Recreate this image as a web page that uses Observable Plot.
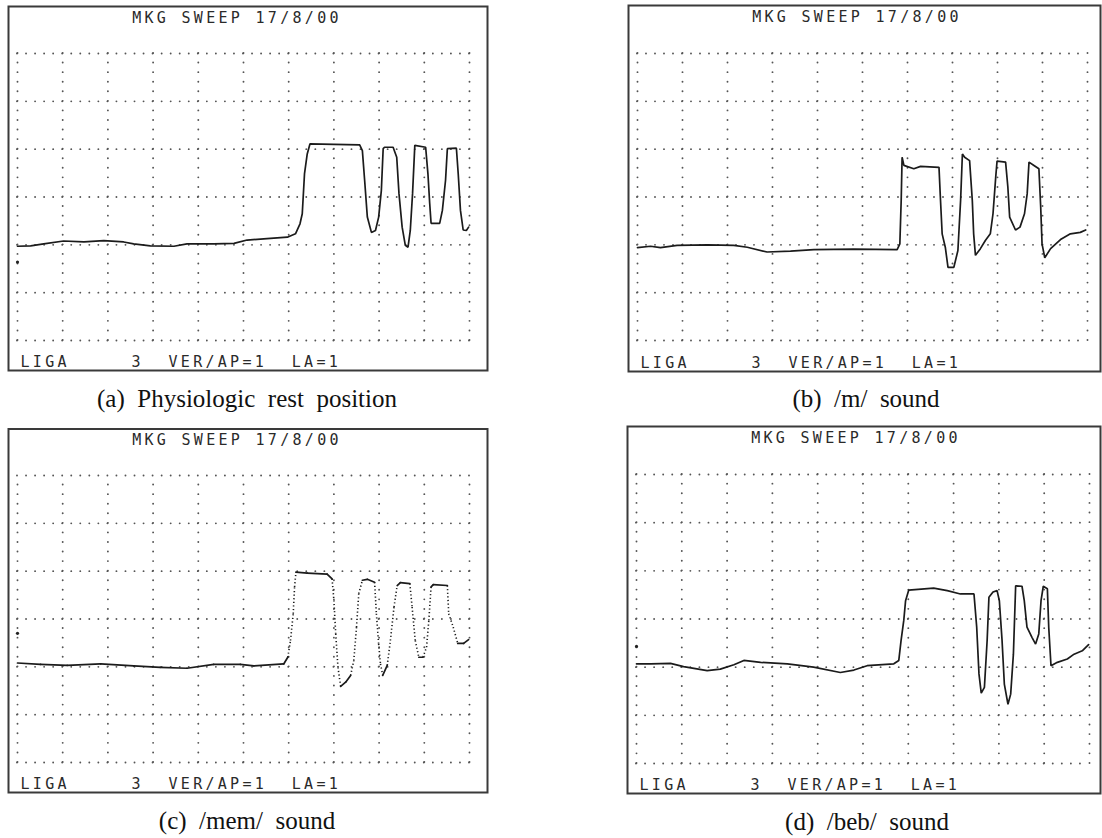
<!DOCTYPE html>
<html><head><meta charset="utf-8">
<script src="https://cdn.jsdelivr.net/npm/d3@7"></script>
<script src="https://cdn.jsdelivr.net/npm/@observablehq/plot@0.6"></script>
<style>
html,body{margin:0;padding:0;background:#fff;overflow:hidden}
#page{position:relative;width:1102px;height:838px;overflow:hidden;background:#fff}
#page svg{position:absolute;left:0;top:0}
.cap{position:absolute;width:420px;text-align:center;font-family:"Liberation Serif","Times New Roman",serif;font-size:25px;line-height:25px;white-space:pre;color:#111}
</style></head><body><div id="page"></div>
<script>
// ---- data (time and amplitude in screen divisions) ----
const xTicks = [0,1,2,3,4,5,6,7,8,9,10];
const yTicks = [0,1,2,3,4,5,6];
const screenTitle = "MKG SWEEP 17/8/00";
const screenFooter = "LIGA     3  VER/AP=1  LA=1";
const captions = ["(a)  Physiologic  rest  position", "(b)  /m/  sound", "(c)  /mem/  sound", "(d)  /beb/  sound"];

const timeA = [0,0.29,0.58,1.02,1.47,1.91,2.35,2.57,2.94,3.46,3.75,4.34,4.79,5.08,5.52,5.97,6.15,6.25,6.30,6.35,6.41,6.47,7.00,7.57,7.63,7.68,7.74,7.83,7.92,7.99,8.05,8.09,8.12,8.31,8.39,8.44,8.51,8.58,8.64,8.69,8.74,8.79,9.03,9.08,9.12,9.15,9.34,9.40,9.47,9.51,9.71,9.75,9.80,9.86,9.93,9.98];
const ampA  = [1.97,1.98,2.02,2.08,2.06,2.09,2.06,2.02,1.98,1.97,2.02,2.02,2.03,2.10,2.13,2.16,2.23,2.44,2.65,3.49,3.90,4.11,4.10,4.09,3.97,3.35,2.58,2.26,2.30,2.58,3.14,4.01,4.04,4.04,3.83,3.07,2.37,1.99,1.95,2.30,3.07,4.08,4.04,3.49,2.86,2.45,2.45,2.72,3.35,4.01,4.02,3.49,2.72,2.31,2.30,2.37];

const timeB = [0,0.29,0.51,0.88,1.55,2.14,2.44,2.88,3.40,3.92,4.81,5.77,5.83,5.86,5.88,5.92,6.14,6.29,6.70,6.73,6.77,6.84,6.90,7.03,7.12,7.18,7.22,7.27,7.38,7.44,7.47,7.51,7.62,7.73,7.84,7.90,7.96,7.99,8.18,8.23,8.27,8.40,8.50,8.60,8.66,8.70,8.81,8.92,8.96,8.99,9.05,9.18,9.40,9.62,9.84,9.96];
const ampB  = [1.94,1.97,1.94,1.99,2.00,1.99,1.95,1.85,1.87,1.90,1.91,1.90,2.02,2.93,3.83,3.66,3.59,3.64,3.62,3.00,2.23,1.95,1.53,1.53,1.88,2.93,3.90,3.83,3.76,2.93,2.23,1.78,1.92,2.09,2.23,2.65,3.41,3.75,3.73,3.21,2.58,2.31,2.37,2.65,3.07,3.73,3.66,3.59,2.79,2.02,1.73,1.92,2.11,2.23,2.26,2.31];

const timeC = [0,0.51,1.10,1.84,2.57,3.16,3.75,4.34,4.93,5.23,5.89,5.98,6.04,6.10,6.13,6.16,6.41,6.85,6.96,7.00,7.04,7.09,7.15,7.26,7.37,7.44,7.50,7.55,7.63,7.74,7.90,7.94,7.99,8.03,8.08,8.18,8.25,8.33,8.40,8.47,8.68,8.73,8.80,8.88,8.97,9.05,9.10,9.15,9.20,9.51,9.54,9.64,9.74,9.87,9.98];
const ampC  = [2.08,2.05,2.03,2.06,2.02,1.99,1.97,2.05,2.05,2.02,2.06,2.20,2.55,3.11,3.67,3.98,3.96,3.94,3.84,3.39,2.69,1.99,1.59,1.68,1.82,2.13,2.83,3.53,3.81,3.83,3.77,3.11,2.48,2.06,1.82,2.03,2.55,3.25,3.70,3.76,3.74,3.25,2.55,2.20,2.20,2.41,2.97,3.67,3.72,3.70,3.11,2.83,2.49,2.49,2.57];

const timeD = [0,0.31,0.75,1.04,1.56,1.85,2.15,2.37,2.74,3.33,3.91,4.50,4.80,5.09,5.68,5.79,5.84,5.90,5.94,6.01,6.56,6.86,7.15,7.45,7.51,7.56,7.61,7.68,7.74,7.78,7.87,7.96,8.01,8.07,8.12,8.20,8.26,8.32,8.37,8.51,8.56,8.62,8.73,8.81,8.88,8.93,8.98,9.07,9.10,9.15,9.29,9.51,9.66,9.84,9.98];
const ampD  = [2.07,2.07,2.08,2.01,1.93,1.96,2.05,2.14,2.10,2.07,2.00,1.89,1.94,2.03,2.07,2.14,2.55,2.97,3.38,3.60,3.64,3.59,3.52,3.52,2.83,1.86,1.46,1.58,2.55,3.45,3.56,3.59,3.38,2.55,1.65,1.23,1.44,2.27,3.69,3.68,3.38,2.83,2.62,2.48,2.69,3.38,3.68,3.63,2.83,2.03,2.10,2.17,2.27,2.34,2.47];

// cursor marker level at left edge of each screen (null = none)
const cursorLevel = [1.64, null, 2.70, 2.43];

// ---- layout (page pixels) ----
const W = 1102, H = 838;
const panels = [
  {t: timeA, v: ampA, box: {l: 8,   t: 6,     r: 487,  b: 370}, gx: [17, 469],  gy: [340, 53],  dotted: false},
  {t: timeB, v: ampB, box: {l: 628, t: 5,     r: 1100, b: 371}, gx: [637, 1087], gy: [340, 53],  dotted: false},
  {t: timeC, v: ampC, box: {l: 8,   t: 428.5, r: 487,  b: 792}, gx: [17, 469],  gy: [762, 475], dotted: true},
  {t: timeD, v: ampD, box: {l: 627, t: 426,   r: 1100, b: 793}, gx: [636, 1089], gy: [763, 474], dotted: false}
];
const capPos = [{cx: 247, base: 407}, {cx: 866, base: 407}, {cx: 247, base: 829}, {cx: 867, base: 830}];

const page = document.getElementById("page");
const mono = "DejaVu Sans Mono, monospace";
const steep = s => Math.abs(s.y2 - s.y1) > 2.5 * Math.abs(s.x2 - s.x1);

panels.forEach((p, k) => {
  const rows = p.t.map((t, i) => ({t, v: p.v[i]}));
  const segs = rows.slice(1).map((r, i) => ({x1: rows[i].t, y1: rows[i].v, x2: r.t, y2: r.v}));
  const xStep = (p.gx[1] - p.gx[0]) / (5 * (xTicks.length - 1));
  const yStep = Math.abs(p.gy[0] - p.gy[1]) / (5 * (yTicks.length - 1));
  const traceStyle = {stroke: "#1b1b1b", strokeWidth: 1.7};
  const marks = [
    Plot.frame({stroke: "#3a3a3a", strokeWidth: 2}),
    Plot.ruleY(yTicks, {y: d => d, x1: xTicks[0], x2: xTicks[xTicks.length - 1], stroke: "#555", strokeWidth: 1.9, strokeLinecap: "round", strokeDasharray: `0 ${xStep}`}),
    Plot.ruleX(xTicks, {x: d => d, y1: yTicks[0], y2: yTicks[yTicks.length - 1], stroke: "#555", strokeWidth: 1.9, strokeLinecap: "round", strokeDasharray: `0 ${yStep}`}),
  ];
  if (p.dotted) {
    marks.push(Plot.link(segs.filter(s => !steep(s)), {x1: "x1", y1: "y1", x2: "x2", y2: "y2", ...traceStyle, strokeLinecap: "round"}));
    marks.push(Plot.link(segs.filter(steep), {x1: "x1", y1: "y1", x2: "x2", y2: "y2", stroke: "#1b1b1b", strokeWidth: 1.6, strokeDasharray: "1.2 2.4"}));
  } else {
    marks.push(Plot.line(rows, {x: "t", y: "v", ...traceStyle, strokeLinejoin: "miter"}));
  }
  if (cursorLevel[k] != null) {
    marks.push(Plot.dot([cursorLevel[k]], {x: xTicks[0], y: d => d, r: 1.6, fill: "#222", stroke: null}));
  }
  marks.push(Plot.text([screenTitle], {text: d => d, frameAnchor: "top-left", dx: 228.5, dy: 16, lineAnchor: "bottom", textAnchor: "middle", fontFamily: mono, fontSize: 15, fill: "#2a2a2a"}));
  marks.push(Plot.text([screenFooter], {text: d => d, frameAnchor: "bottom-left", dx: 12, dy: -4, lineAnchor: "bottom", textAnchor: "start", fontFamily: mono, fontSize: 15, fill: "#2a2a2a"}));

  const svg = Plot.plot({
    width: W, height: H,
    marginLeft: p.box.l, marginTop: p.box.t, marginRight: W - p.box.r, marginBottom: H - p.box.b,
    style: {background: "transparent", overflow: "visible"},
    x: {domain: [xTicks[0], xTicks[xTicks.length - 1]], range: p.gx, axis: null},
    y: {domain: [yTicks[0], yTicks[yTicks.length - 1]], range: p.gy, axis: null},
    marks
  });
  d3.select(svg).selectAll("text")
    .style("letter-spacing", "3.3px")
    .style("white-space", "pre")
    .attr("xml:space", "preserve");
  page.appendChild(svg);

  const cap = document.createElement("div");
  cap.className = "cap";
  cap.textContent = captions[k];
  cap.style.left = (capPos[k].cx - 210) + "px";
  cap.style.top = (capPos[k].base - 21) + "px";
  page.appendChild(cap);
});
</script>
</body></html>
